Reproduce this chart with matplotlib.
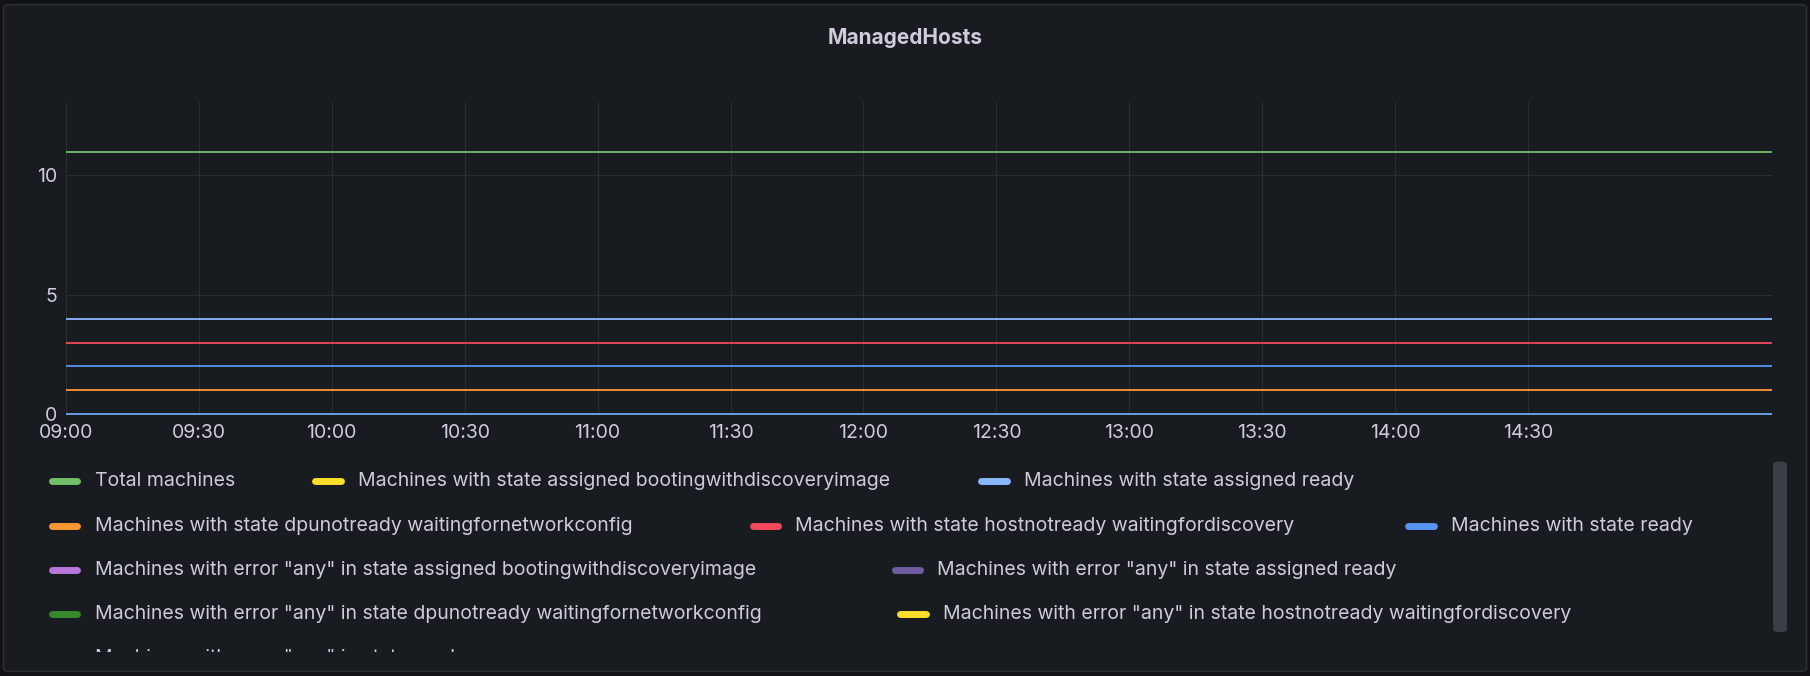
import matplotlib
matplotlib.use("Agg")
import matplotlib.pyplot as plt
from matplotlib.lines import Line2D
from matplotlib.patches import FancyBboxPatch, Rectangle

plt.rcParams['font.family'] = ['Inter', 'DejaVu Sans']
W, H = 1568, 586  # reference display coords
times = ["09:00", "15:25"]
series_names = [
    "Total machines",
    "Machines with state assigned bootingwithdiscoveryimage",
    "Machines with state assigned ready",
    "Machines with state dpunotready waitingfornetworkconfig",
    "Machines with state hostnotready waitingfordiscovery",
    "Machines with state ready",
    'Machines with error "any" in state assigned bootingwithdiscoveryimage',
    'Machines with error "any" in state assigned ready',
    'Machines with error "any" in state dpunotready waitingfornetworkconfig',
    'Machines with error "any" in state hostnotready waitingfordiscovery',
    'Machines with error "any" in state ready',
]
series_values = [
    [11, 11], [0, 0], [4, 4], [1, 1], [3, 3], [2, 2],
    [0, 0], [0, 0], [0, 0], [0, 0], [0, 0],
]
colors = ["#73bf69", "#fade2a", "#8ab8ff", "#ff9830", "#f2495c", "#5794f2",
          "#b877d9", "#705da0", "#37872d", "#fade2a", "#555a62"]
xticks = ["09:00", "09:30", "10:00", "10:30", "11:00", "11:30", "12:00",
          "12:30", "13:00", "13:30", "14:00", "14:30"]
yticks = [0, 5, 10]

bg = "#181b1f"
txt = "#ccccdc"
fig = plt.figure(figsize=(18.10, 6.76), dpi=100, facecolor="#111217")

def fx(x): return x / W
def fy(y): return 1 - y / H

fig.patches.append(FancyBboxPatch((fx(3), fy(582)), fx(1562), 578 / H,
    boxstyle="round,pad=0,rounding_size=0.004", transform=fig.transFigure,
    facecolor=bg, edgecolor="#2a2d33", lw=1.2, zorder=-5))
fig.text(0.5, fy(33), "ManagedHosts", ha="center", va="center",
         color=txt, fontsize=15, fontweight="bold")

ax = fig.add_axes([fx(57), fy(360), fx(1535 - 57), (360 - 88) / H])
ax.set_facecolor("none")
def tnum(t):
    h, m = map(int, t.split(":"))
    return h * 60 + m
tx = [tnum(t) for t in times]
order = list(range(len(series_names)))[::-1]
for i in order:
    ax.plot(tx, series_values[i], color=colors[i], lw=1.3)
ax.plot(tx, series_values[5 - 5 + 1], color="#5794f2", lw=1.3)  # zero-level blue seen on top
ax.set_xlim(tx[0], tx[1])
ax.set_ylim(-0.05, 13.1)
ax.set_xticks([tnum(t) for t in xticks])
ax.set_xticklabels(xticks)
ax.set_yticks(yticks)
ax.tick_params(colors=txt, labelsize=14, length=0, pad=6)
ax.grid(True, color="#2a2d33", lw=0.8)
for sp in ax.spines.values():
    sp.set_visible(False)

rows = [417, 456, 494, 532, 570]
layout = [(0, 0, 45), (1, 0, 273), (2, 0, 850),
          (3, 1, 45), (4, 1, 652), (5, 1, 1220),
          (6, 2, 45), (7, 2, 775),
          (8, 3, 45), (9, 3, 780),
          (10, 4, 45)]
for idx, r, x in layout:
    y = rows[r]
    fig.lines.append(Line2D([fx(x), fx(x + 22)], [fy(y), fy(y)],
                            transform=fig.transFigure, color=colors[idx],
                            lw=5, solid_capstyle="round"))
    fig.text(fx(x + 37), fy(y), series_names[idx], color=txt,
             fontsize=14, va="center", ha="left")
# cut-off of last legend row
fig.patches.append(Rectangle((fx(5), fy(580)), fx(1520), 15 / H,
    transform=fig.transFigure, facecolor=bg, edgecolor="none", zorder=10))
fig.patches.append(FancyBboxPatch((fx(1536), fy(548)), fx(12), 148 / H,
    boxstyle="round,pad=0,rounding_size=0.004", transform=fig.transFigure,
    facecolor="#3b3e44", edgecolor="none"))
fig.savefig("out.png", dpi=100, facecolor=fig.get_facecolor())
